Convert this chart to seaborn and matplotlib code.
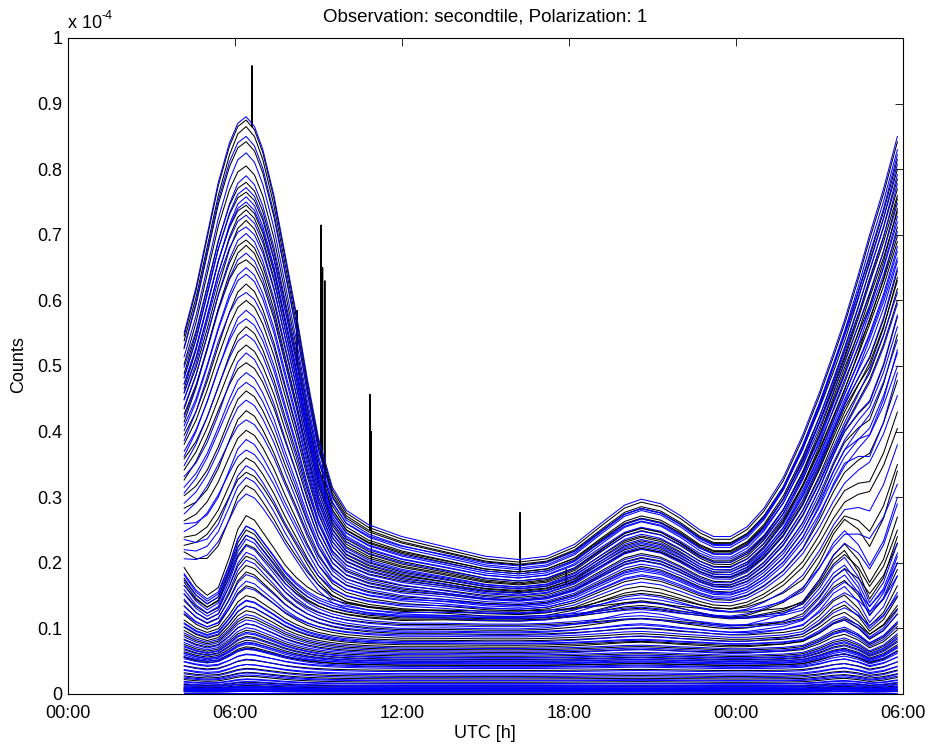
import numpy as np
import pandas as pd
import matplotlib
matplotlib.use("Agg")
import matplotlib.pyplot as plt
import seaborn as sns

# ---------------- data (values in units of 1e-4 counts) ----------------
HOURS = [4.17, 4.6, 5.0, 5.4, 5.8, 6.1, 6.4, 6.7, 7.0, 7.4, 7.8, 8.2, 8.6, 9.0,
         9.5, 10.0, 10.8, 12.0, 13.5, 15.0, 16.2, 17.2, 18.2, 19.2, 20.0, 20.6,
         21.3, 22.0, 22.7, 23.2, 23.8, 24.4, 25.0, 25.7, 26.4, 27.0, 27.5, 27.9,
         28.4, 28.8, 29.3, 29.8]

# uppermost curve
TOP_CURVE = [0.55, 0.62, 0.70, 0.78, 0.84, 0.87, 0.88, 0.865, 0.83, 0.76, 0.67,
             0.58, 0.48, 0.39, 0.315, 0.28, 0.258, 0.24, 0.225, 0.21, 0.205, 0.21,
             0.228, 0.262, 0.288, 0.297, 0.29, 0.272, 0.25, 0.24, 0.24, 0.255,
             0.283, 0.33, 0.395, 0.46, 0.52, 0.57, 0.64, 0.70, 0.77, 0.85]

# bump profile of the low curves (relative, 1 = bump at 06:24)
BUMP_SHAPE = [0.45, 0.25, 0.14, 0.22, 0.55, 0.85, 1.0, 0.95, 0.82, 0.65, 0.47, 0.34,
              0.24, 0.17, 0.11, 0.07, 0.03, 0.0, 0.0, -0.01, -0.01, 0.0, 0.02, 0.05,
              0.08, 0.09, 0.07, 0.04, 0.02, 0.0, -0.02, -0.02, 0.0, 0.02, 0.08,
              0.3, 0.55, 0.65, 0.42, 0.12, 0.35, 0.8]

# upper group of curves: value at 06:24, at 12:00, at the right end, bump amplitude
UP_PEAK = [0.880, 0.875, 0.865, 0.850, 0.842, 0.825, 0.805, 0.790, 0.780, 0.772,
           0.765, 0.758, 0.750, 0.745, 0.738, 0.730, 0.722, 0.712, 0.702, 0.692,
           0.684, 0.672, 0.662, 0.650, 0.640, 0.625, 0.612, 0.600, 0.585, 0.572,
           0.560, 0.548, 0.532, 0.520, 0.505, 0.490, 0.475, 0.462, 0.448, 0.432,
           0.418, 0.402, 0.388, 0.372, 0.360, 0.348, 0.338, 0.330, 0.318, 0.305]
UP_MID = [0.240, 0.236, 0.232, 0.226, 0.230, 0.222, 0.218, 0.225, 0.214, 0.210,
          0.216, 0.206, 0.212, 0.202, 0.198, 0.205, 0.195, 0.200, 0.190, 0.193,
          0.186, 0.188, 0.182, 0.184, 0.178, 0.180, 0.174, 0.176, 0.170, 0.166,
          0.172, 0.162, 0.165, 0.158, 0.160, 0.154, 0.150, 0.156, 0.146, 0.148,
          0.142, 0.138, 0.144, 0.134, 0.130, 0.136, 0.126, 0.122, 0.128, 0.118]
UP_END = [0.850, 0.842, 0.815, 0.830, 0.800, 0.822, 0.785, 0.808, 0.770, 0.792,
          0.760, 0.778, 0.748, 0.735, 0.755, 0.720, 0.740, 0.705, 0.728, 0.690,
          0.712, 0.675, 0.698, 0.660, 0.682, 0.645, 0.665, 0.630, 0.650, 0.612,
          0.635, 0.595, 0.618, 0.578, 0.600, 0.560, 0.540, 0.575, 0.520, 0.548,
          0.500, 0.478, 0.525, 0.455, 0.430, 0.490, 0.405, 0.380, 0.350, 0.320]
UP_BUMP = [0.0, 0.0, 0.01, 0.0, 0.0, 0.01, 0.0, 0.02, 0.0, 0.01,
           0.0, 0.02, 0.01, 0.0, 0.02, 0.01, 0.03, 0.0, 0.02, 0.01,
           0.03, 0.02, 0.0, 0.03, 0.02, 0.04, 0.01, 0.03, 0.04, 0.02,
           0.05, 0.03, 0.04, 0.06, 0.03, 0.05, 0.04, 0.06, 0.05, 0.07,
           0.04, 0.06, 0.08, 0.05, 0.07, 0.09, 0.06, 0.08, 0.10, 0.07]
UP_COLOR = "bkkbkbkbkb" "kbbkkbkbbk" "kbkbbkbkbb" "kbkbkbbkbk" "bkbbkbkbkb"

# lower group with the bumps near 06:24 and 03:54
LOW_PEAK = [0.272, 0.256, 0.256, 0.250, 0.242, 0.242, 0.236, 0.228, 0.226, 0.216,
            0.210, 0.204, 0.196, 0.186, 0.182, 0.172, 0.165, 0.162, 0.150, 0.142,
            0.143, 0.134, 0.134, 0.127, 0.121, 0.117, 0.113, 0.107, 0.107, 0.101,
            0.097, 0.094, 0.092, 0.088, 0.086, 0.082, 0.079, 0.076, 0.072, 0.068]
LOW_MID = [0.128, 0.124, 0.120, 0.116, 0.118, 0.112, 0.108, 0.114, 0.104, 0.100,
           0.106, 0.096, 0.098, 0.092, 0.094, 0.088, 0.085, 0.090, 0.082, 0.078,
           0.080, 0.075, 0.077, 0.072, 0.070, 0.068, 0.066, 0.062, 0.064, 0.060,
           0.058, 0.056, 0.055, 0.053, 0.052, 0.050, 0.048, 0.046, 0.044, 0.042]
LOW_END = [0.240, 0.300, 0.230, 0.270, 0.215, 0.340, 0.210, 0.250, 0.200, 0.290,
           0.190, 0.180, 0.230, 0.165, 0.200, 0.155, 0.148, 0.180, 0.135, 0.128,
           0.150, 0.122, 0.122, 0.130, 0.110, 0.107, 0.103, 0.110, 0.098, 0.092,
           0.089, 0.086, 0.084, 0.081, 0.079, 0.075, 0.072, 0.070, 0.066, 0.062]
LOW_BUMP = [0.140, 0.128, 0.132, 0.130, 0.120, 0.126, 0.124, 0.110, 0.118, 0.112,
            0.100, 0.104, 0.094, 0.090, 0.084, 0.080, 0.076, 0.068, 0.064, 0.060,
            0.060, 0.056, 0.054, 0.052, 0.048, 0.046, 0.044, 0.042, 0.040, 0.038,
            0.036, 0.035, 0.034, 0.032, 0.031, 0.029, 0.028, 0.027, 0.025, 0.023]
LOW_COLOR = "kbbkb" "kbkbb" "kbkkb" "bkbkb" "bkbkb" "kbbkb" "kbbkb" "kbbkb"

# flat curves near zero: level and bump amplitude
BOT_MID = [0.050, 0.047, 0.044, 0.041, 0.039, 0.036, 0.034, 0.031, 0.029, 0.027,
           0.025, 0.023, 0.021, 0.020, 0.018, 0.016, 0.015, 0.013, 0.012, 0.011,
           0.010, 0.009, 0.008, 0.008, 0.007, 0.007, 0.006, 0.006, 0.005, 0.005,
           0.004, 0.004, 0.003, 0.003, 0.002, 0.002]
BOT_BUMP = [0.028, 0.022, 0.026, 0.019, 0.022, 0.016, 0.019, 0.014, 0.016, 0.012,
            0.013, 0.010, 0.011, 0.009, 0.009, 0.007, 0.007, 0.006, 0.006, 0.005,
            0.005, 0.004, 0.004, 0.003, 0.003, 0.003, 0.002, 0.002, 0.002, 0.002,
            0.001, 0.001, 0.001, 0.001, 0.0, 0.0]
BOT_COLOR = "bbkbb" "kbbbk" "bkbbk" "bbbkb" "bkbbb" "kbbkb" "bbkbb" "b"

# single-sample spikes: (curve index, hour, peak value)
SPIKE_LINE = [1, 10, 4, 8, 14, 2, 20, 6, 30]
SPIKE_HOUR = [6.61, 8.23, 9.09, 9.15, 9.23, 10.85, 10.90, 16.24, 17.90]
SPIKE_PEAK = [0.958, 0.585, 0.715, 0.650, 0.630, 0.457, 0.400, 0.277, 0.190]

XTICK_HOURS = [0, 6, 12, 18, 24, 30]
XTICK_LABELS = ["00:00", "06:00", "12:00", "18:00", "00:00", "06:00"]
YTICKS = [0, 0.1, 0.2, 0.3, 0.4, 0.5, 0.6, 0.7, 0.8, 0.9, 1.0]
YTICK_LABELS = ["0", "0.1", "0.2", "0.3", "0.4", "0.5", "0.6", "0.7", "0.8", "0.9", "1"]

# ---------------- build curves ----------------
h = np.array(HOURS)
top = np.array(TOP_CURVE)
bshape = np.array(BUMP_SHAPE)
sky = top - TOP_CURVE[HOURS.index(12.0)] + 0.04
i_pk = HOURS.index(6.4)
i_md = HOURS.index(12.0)
w = np.clip((h - 12.0) / 6.0, 0, 1)

peaks = UP_PEAK + LOW_PEAK + [m + b for m, b in zip(BOT_MID, BOT_BUMP)]
mids = UP_MID + LOW_MID + BOT_MID
ends = UP_END + LOW_END + [m + 0.8 * b for m, b in zip(BOT_MID, BOT_BUMP)]
bumps = UP_BUMP + LOW_BUMP + BOT_BUMP
colors = UP_COLOR + LOW_COLOR + BOT_COLOR

rows = []
for k, (p, m, e, b, col) in enumerate(zip(peaks, mids, ends, bumps, colors)):
    aL = (p - b - m) / (sky[i_pk] - sky[i_md])
    c = m - aL * sky[i_md]
    aR = (e - c - b * bshape[-1]) / sky[-1]
    v = c + (aL * (1 - w) + aR * w) * sky + b * bshape
    xs, ys = list(h), list(v)
    for sl, sh, sp in zip(SPIKE_LINE, SPIKE_HOUR, SPIKE_PEAK):
        if sl == k:
            base = float(np.interp(sh, h, v))
            xs += [sh - 0.006, sh, sh + 0.006]
            ys += [base, sp, base]
    order = np.argsort(xs, kind="stable")
    for j in order:
        rows.append((k, col, xs[j], ys[j]))

df = pd.DataFrame(rows, columns=["line", "color", "hour", "counts"])

# ---------------- plot ----------------
sns.set_theme(style="white")
plt.rcParams["font.family"] = ["Liberation Sans", "DejaVu Sans"]
for key in ["text.color", "axes.labelcolor", "xtick.color", "ytick.color", "axes.edgecolor"]:
    plt.rcParams[key] = "black"

fig = plt.figure(figsize=(9.31, 7.54), dpi=100)
ax = fig.add_axes([68 / 931, 60 / 754, 835 / 931, 656 / 754])

sns.lineplot(data=df, x="hour", y="counts", units="line", estimator=None,
             hue="color", hue_order=["k", "b"],
             palette={"k": "black", "b": "blue"}, linewidth=0.75,
             legend=False, sort=False, ax=ax)

ax.set_xlim(0, 30)
ax.set_ylim(0, 1)
ax.set_xticks(XTICK_HOURS)
ax.set_xticklabels(XTICK_LABELS)
ax.set_yticks(YTICKS)
ax.set_yticklabels(YTICK_LABELS)
ax.set_xlabel("")
ax.set_ylabel("")
ax.tick_params(direction="in", length=6, width=0.6, top=True, right=True,
               labelsize=13, colors="black")
ax.tick_params(axis="x", pad=8)
ax.tick_params(axis="y", pad=4)
for s in ax.spines.values():
    s.set_color("black")
    s.set_linewidth(0.8)

fig.text(485 / 931, 1 - 16.5 / 754, "Observation: secondtile, Polarization: 1",
         ha="center", va="center", fontsize=13.5)
fig.text(485 / 931, 1 - 733 / 754, "UTC [h]", ha="center", va="center", fontsize=13)
fig.text(18.5 / 931, 1 - 365 / 754, "Counts", ha="center", va="center",
         rotation=90, fontsize=13)
fig.text(68 / 931, 1 - 28 / 754, "x 10", ha="left", va="baseline", fontsize=13)
fig.text(101 / 931, 1 - 19 / 754, "-4", ha="left", va="baseline", fontsize=9)

fig.savefig("out.png", dpi=100, facecolor="white")
